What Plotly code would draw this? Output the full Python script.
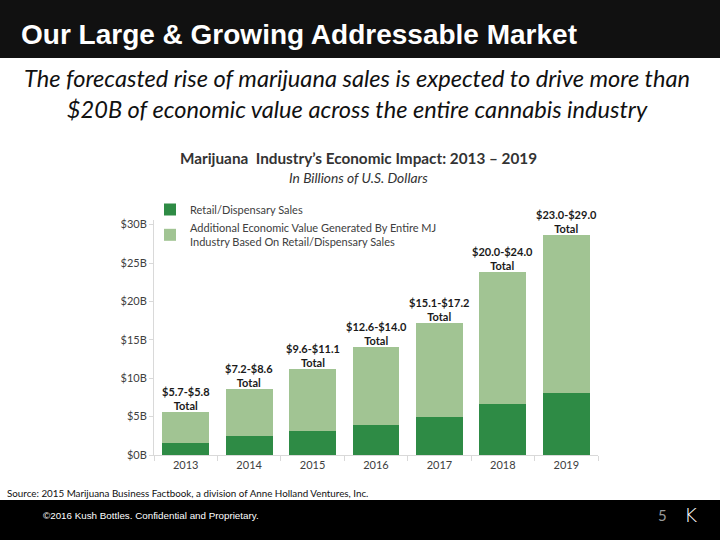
import plotly.graph_objects as go

# ---- data ----
years = ["2013", "2014", "2015", "2016", "2017", "2018", "2019"]
retail_sales = [1.6, 2.5, 3.1, 3.9, 4.9, 6.6, 8.1]
additional_value = [4.0, 6.1, 8.1, 10.1, 12.3, 17.2, 20.5]
total_labels = ["$5.7-$5.8", "$7.2-$8.6", "$9.6-$11.1", "$12.6-$14.0",
                "$15.1-$17.2", "$20.0-$24.0", "$23.0-$29.0"]
y_tick_vals = [0, 5, 10, 15, 20, 25, 30]
y_tick_text = ["$0B", "$5B", "$10B", "$15B", "$20B", "$25B", "$30B"]

totals = [r + a for r, a in zip(retail_sales, additional_value)]

DARK = "#2e8b45"
LIGHT = "#a1c493"
TICK = "#404040"

W, H = 720, 540
ML, MR, MT, MB = 154, 122, 220, 85
PW, PH = W - ML - MR, H - MT - MB

def px(x):
    return (x - ML) / PW

def py(y):
    return (H - MB - y) / PH

fig = go.Figure()
fig.add_trace(go.Bar(x=years, y=retail_sales, name="Retail/Dispensary Sales",
                     marker=dict(color=DARK, line=dict(width=0))))
fig.add_trace(go.Bar(x=years, y=additional_value,
                     name="Additional Economic Value Generated By Entire MJ<br>Industry Based On Retail/Dispensary Sales",
                     marker=dict(color=LIGHT, line=dict(width=0))))

annotations = []
for i, (tot, lab) in enumerate(zip(totals, total_labels)):
    annotations.append(dict(x=i, y=tot, xref="x", yref="y", yanchor="bottom",
                            text=f"{lab}<br>Total", showarrow=False, yshift=-2,
                            font=dict(family="Lato", size=11, color="#1a1a1a", weight="bold"),
                            align="center"))

# slide text
annotations += [
    dict(xref="paper", yref="paper", x=px(19), y=py(34), xanchor="left", yanchor="middle",
         text="<b>Our Large &amp; Growing Addressable Market</b>", showarrow=False,
         font=dict(family="Liberation Sans", size=28, color="white")),
    dict(xref="paper", yref="paper", x=px(357), y=py(94), xanchor="center", yanchor="middle",
         text="<i>The forecasted rise of marijuana sales is expected to drive more than<br>$20B of economic value across the entire cannabis industry</i>",
         showarrow=False, align="center",
         font=dict(family="Lato", size=23.6, color="#111111")),
    dict(xref="paper", yref="paper", x=px(358), y=py(158), xanchor="center", yanchor="middle",
         text="<b>Marijuana  Industry’s Economic Impact: 2013 – 2019</b>", showarrow=False,
         font=dict(family="Lato", size=15.3, color="#333333")),
    dict(xref="paper", yref="paper", x=px(358), y=py(177), xanchor="center", yanchor="middle",
         text="<i>In Billions of U.S. Dollars</i>", showarrow=False,
         font=dict(family="Lato", size=13.8, color="#333333")),
    dict(xref="paper", yref="paper", x=px(5), y=py(493), xanchor="left", yanchor="middle",
         text="Source: 2015 Marijuana Business Factbook, a division of Anne Holland Ventures, Inc.",
         showarrow=False, font=dict(family="Lato", size=9.8, color="#111111")),
    dict(xref="paper", yref="paper", x=px(41), y=py(515), xanchor="left", yanchor="middle",
         text="©2016 Kush Bottles. Confidential and Proprietary.", showarrow=False,
         font=dict(family="Liberation Sans", size=9.8, color="white")),
    dict(xref="paper", yref="paper", x=px(662), y=py(515), xanchor="center", yanchor="middle",
         text="5", showarrow=False, font=dict(family="Lato", size=15, color="#9a9a9a")),
    dict(xref="paper", yref="paper", x=px(690), y=py(515), xanchor="center", yanchor="middle",
         text="K", showarrow=False, font=dict(family="DejaVu Sans", size=20, color="white", weight=200)),
]

shapes = [
    dict(type="rect", xref="paper", yref="paper", x0=px(0), x1=px(W), y0=py(58), y1=py(0),
         fillcolor="#111111", line=dict(width=0), layer="below"),
    dict(type="rect", xref="paper", yref="paper", x0=px(0), x1=px(W), y0=py(H), y1=py(500),
         fillcolor="#000000", line=dict(width=0), layer="below"),
]

fig.update_layout(
    width=W, height=H,
    margin=dict(l=ML, r=MR, t=MT, b=MB, autoexpand=False),
    paper_bgcolor="white", plot_bgcolor="white",
    barmode="stack", bargap=0.26,
    showlegend=True,
    legend=dict(x=px(150), y=py(195), xanchor="left", yanchor="top",
                bgcolor="rgba(0,0,0,0)", traceorder="normal",
                font=dict(family="Lato", size=11, color=TICK), itemclick=False,
                tracegroupgap=0),
    xaxis=dict(type="category", range=[-0.5, 6.5], showline=True, linecolor="#d9d9d9", linewidth=1,
               ticks="outside", tickson="boundaries", ticklen=5, tickcolor="#d9d9d9",
               tickangle=0, automargin=False,
               tickfont=dict(family="Lato", size=11, color=TICK), showgrid=False),
    yaxis=dict(range=[0, PH / 7.68], tickvals=y_tick_vals, ticktext=y_tick_text,
               showline=True, linecolor="#d9d9d9", linewidth=1, showgrid=False,
               ticks="outside", ticklen=4, tickcolor="#d9d9d9", zeroline=False, automargin=False,
               tickfont=dict(family="Lato", size=11, color=TICK)),
    annotations=annotations,
    shapes=shapes,
)

fig.write_html("out.html", config={"displayModeBar": False},
               post_script="document.body.style.margin='0';")
